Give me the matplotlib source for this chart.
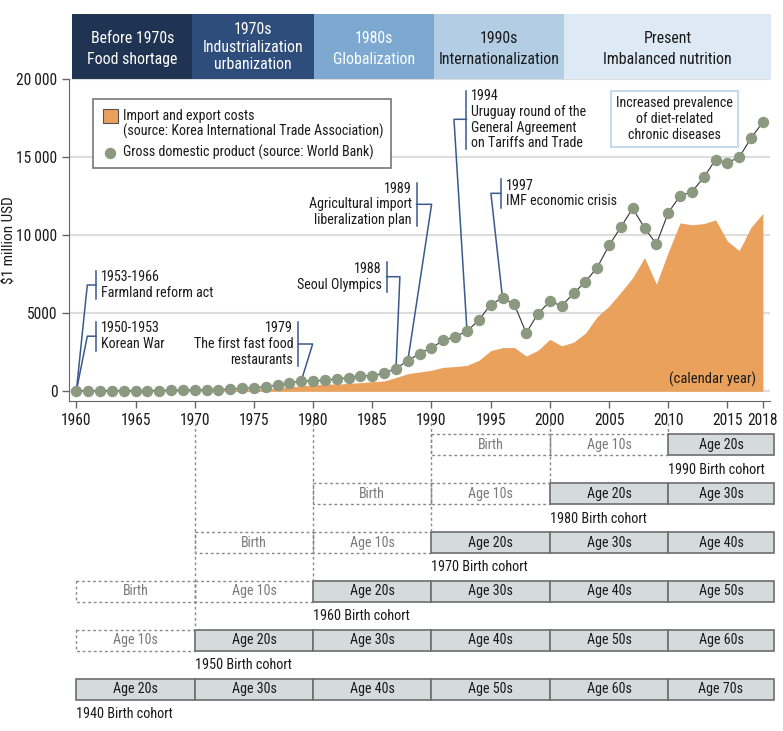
"""Korea GDP vs. trade volume timeline with birth-cohort age bands."""

import matplotlib

matplotlib.use("Agg")
import matplotlib.pyplot as plt
from matplotlib import font_manager
from matplotlib.patches import Rectangle

installed = {f.name for f in font_manager.fontManager.ttflist}
preferred = ["Liberation Sans Narrow", "DejaVu Sans Condensed", "Roboto Condensed", "Roboto"]
family = [f for f in preferred if f in installed][:1] + ["DejaVu Sans"]
plt.rcParams["font.family"] = family

# --- data -----------------------------------------------------------------
years = list(range(1960, 2019))

gdp = [40, 24, 28, 40, 35, 31, 39, 49, 61, 77,
       90, 99, 108, 138, 195, 217, 298, 384, 529, 671,
       654, 724, 781, 879, 975, 1003, 1155, 1461, 1961, 2422,
       2794, 3257, 3501, 3863, 4556, 5561, 5981, 5575, 3742, 4975,
       5762, 5477, 6273, 7027, 7932, 9349, 10526, 11726, 10473, 9439,
       11441, 12532, 12784, 13708, 14843, 14658, 15001, 16239, 17248]

trade = [4, 4, 5, 6, 5, 6, 10, 13, 19, 25,
         28, 35, 41, 75, 113, 124, 167, 209, 277, 354,
         398, 474, 461, 505, 557, 614, 663, 883, 1125, 1238,
         1349, 1534, 1584, 1660, 1984, 2602, 2801, 2808, 2256, 2634,
         3327, 2915, 3146, 3726, 4783, 5457, 6348, 7283, 8573, 6866,
         8916, 10796, 10675, 10752, 10982, 9633, 9016, 10522, 11401]

xtick_years = [1960, 1965, 1970, 1975, 1980, 1985, 1990, 1995, 2000, 2005, 2010, 2015, 2018]
ytick_values = [0, 5000, 10000, 15000, 20000]
ytick_labels = ["0", "5000", "10\u2009000", "15\u2009000", "20\u2009000"]

era_labels = ["Before 1970s\nFood shortage",
              "1970s\nIndustrialization\nurbanization",
              "1980s\nGlobalization",
              "1990s\nInternationalization",
              "Present\nImbalanced nutrition"]

cohorts = [1990, 1980, 1970, 1960, 1950, 1940]
cohort_decades = [1960, 1970, 1980, 1990, 2000, 2010]

events = [
    # label, target year, side of text
    ("1953-1966\nFarmland reform act", 1960, "right"),
    ("1950-1953\nKorean War", 1960, "right"),
    ("1979\nThe first fast food\nrestaurants", 1979, "left"),
    ("1988\nSeoul Olympics", 1987, "left"),
    ("1989\nAgricultural import\nliberalization plan", 1988, "left"),
    ("1994\nUruguay round of the\nGeneral Agreement\non Tariffs and Trade", 1993, "right"),
    ("1997\nIMF economic crisis", 1996, "right"),
]

# --- layout / style ---------------------------------------------------------
W, H = 783, 731
XLIM = (1959.4, 2018.6)
YLIM = (-622, 20000)
ROW_END = 2018.92
FS = 10.1

ORANGE = "#e9a15b"
DOT = "#8a9980"
NAVY = "#3a5a8c"
ERA_COLORS = ["#1f3352", "#2e4d7b", "#7da9d1", "#b2cde4", "#dde9f4"]
ERA_TEXT = ["white", "white", "white", "#1a1a1a", "#1a1a1a"]
ERA_EDGES = [1959.67, 1969.8, 1980.05, 1990.2, 2001.2, 2018.7]

# bracket geometry per event: bracket x, y top, y bottom, tick end x, tick y
brackets = [
    (1961.66, 7731, 5897, 1960.92, 6814),
    (1961.66, 4461, 2602, 1960.92, 3532),
    (1978.74, 4423, 1641, 1979.96, 3032),
    (1986.21, 8307, 6384, 1987.33, 7346),
    (1988.74, 13371, 10596, 1990.01, 11987),
    (1992.95, 19268, 15531, 1991.90, 17435),
    (1995.84, 13589, 11769, 1995.02, 12692),
]


def px_box(left, top, right, bottom):
    return [left / W, 1 - bottom / H, (right - left) / W, (bottom - top) / H]


fig = plt.figure(figsize=(W / 100, H / 100), dpi=100)

# --- main chart -------------------------------------------------------------
ax = fig.add_axes(px_box(69.3, 79.3, 770, 401))
ax.set_xlim(*XLIM)
ax.set_ylim(*YLIM)

ax.fill_between(years, 0, trade, color=ORANGE, lw=0, zorder=2)
ax.plot(years, gdp, color="#333333", lw=0.8, marker="o", ms=7.2,
        mfc=DOT, mec=DOT, zorder=4)

ax.set_yticks(ytick_values)
ax.set_yticklabels(ytick_labels)
ax.set_xticks(xtick_years)
ax.set_xticklabels([str(y) for y in xtick_years])
ax.tick_params(axis="both", labelsize=11.2, colors="#666666", labelcolor="#1a1a1a",
               length=5, width=1)
ax.yaxis.grid(True, color="#dddddd", lw=1.5, zorder=0)
ax.set_axisbelow(True)
for side in ("top", "right"):
    ax.spines[side].set_visible(False)
for side in ("left", "bottom"):
    ax.spines[side].set_color("#666666")

fig.text(10 / W, 1 - 240 / H, "\\$1 million USD", rotation=90, ha="center",
         va="center", fontsize=11, color="#1a1a1a")

ax.text(2017.4, 770, "(calendar year)", ha="right", va="center", fontsize=10.5,
        color="#1a1a1a", zorder=5)

# events with brackets and leader lines
for (label, target, side), (bx, ytop, ybot, tx, ty) in zip(events, brackets):
    gx = target
    gy = gdp[years.index(target)]
    ax.plot([bx, bx], [ytop, ybot], color=NAVY, lw=1.1, zorder=3)
    ax.plot([bx, tx, gx], [ty, ty, gy], color=NAVY, lw=1.1, zorder=3)
    if side == "right":
        ax.text(bx + 0.42, (ytop + ybot) / 2, label, ha="left", va="center",
                fontsize=FS, color="#1a1a1a", linespacing=1.15, zorder=5)
    else:
        ax.text(bx - 0.42, (ytop + ybot) / 2, label, ha="right", va="center",
                multialignment="right", fontsize=FS, color="#1a1a1a",
                linespacing=1.15, zorder=5)

ax.text(2010.56, 17455, "Increased prevalence\nof diet-related\nchronic diseases",
        ha="center", va="center", fontsize=FS, color="#1a1a1a", linespacing=1.15,
        bbox=dict(boxstyle="square,pad=0.35", fc="white", ec="#c6dbee", lw=1.5),
        zorder=5)

# legend drawn by hand so the patch sits on the first line
ax.add_patch(Rectangle((0.0343, 0.7258), 0.4247, 0.2126, transform=ax.transAxes,
                       fc="white", ec="#777777", lw=1.2, zorder=6))
ax.add_patch(Rectangle((0.0477, 0.8632), 0.0222, 0.0445, transform=ax.transAxes,
                       fc=ORANGE, ec="#555555", lw=0.8, zorder=7))
ax.plot([0.0581], [0.7718], "o", ms=7.2, mfc=DOT, mec=DOT,
        transform=ax.transAxes, zorder=7, clip_on=False)
legend_lines = [("Import and export costs", 0.886),
                ("(source: Korea International Trade Association)", 0.8371),
                ("Gross domestic product (source: World Bank)", 0.7718)]
for txt, yy in legend_lines:
    ax.text(0.0771, yy, txt, transform=ax.transAxes, ha="left", va="center",
            fontsize=FS, color="#1a1a1a", zorder=7)

# --- era band ----------------------------------------------------------------
band = fig.add_axes(px_box(69.3, 14, 770, 79.3))
band.set_xlim(*XLIM)
band.set_ylim(0, 1)
band.axis("off")
for i, label in enumerate(era_labels):
    x0, x1 = ERA_EDGES[i], ERA_EDGES[i + 1]
    band.add_patch(Rectangle((x0, 0), x1 - x0, 1, fc=ERA_COLORS[i], ec="none",
                             clip_on=False))
    nlines = label.count("\n") + 1
    band.text((x0 + x1) / 2, 0.46 if nlines == 2 else 0.49, label, ha="center",
              va="center", fontsize=11.4, color=ERA_TEXT[i],
              linespacing=1.5 if nlines == 2 else 1.22)

# --- birth cohort rows -------------------------------------------------------
coh = fig.add_axes(px_box(69.3, 401, 770, 731))
coh.set_xlim(*XLIM)
coh.set_ylim(5.86, -0.9)
coh.axis("off")
row_h = 0.43

for r, c in enumerate(cohorts):
    for d in cohort_decades:
        age = d - c
        if age < 0:
            continue
        x1 = d + 10 if d < 2010 else ROW_END
        text = "Birth" if age == 0 else f"Age {age}s"
        if age >= 20:
            coh.add_patch(Rectangle((d, r - row_h / 2), x1 - d, row_h, fc="#d4dbda",
                                    ec="#6d6d6d", lw=1.2, clip_on=False))
            tcol = "#1a1a1a"
        else:
            coh.add_patch(Rectangle((d, r - row_h / 2), x1 - d, row_h, fc="none",
                                    ec="#888888", lw=1, ls=(0, (2, 2)), clip_on=False))
            tcol = "#7a7a7a"
        coh.text((d + x1) / 2, r, text, ha="center", va="center", fontsize=FS,
                 color=tcol)
    start = max(c + 20, 1960)
    coh.text(start, r + 0.51, f"{c} Birth cohort", ha="left", va="center",
             fontsize=10.3, color="#1a1a1a")

# dotted guides from the year axis to the decade where each cohort turns 20
for d in cohort_decades[1:]:
    r = cohorts.index(d - 20)
    coh.plot([d, d], [-0.45, r - row_h / 2], color="#888888", lw=1,
             ls=(0, (2, 2)), clip_on=False)

fig.savefig("out.png", dpi=100)
